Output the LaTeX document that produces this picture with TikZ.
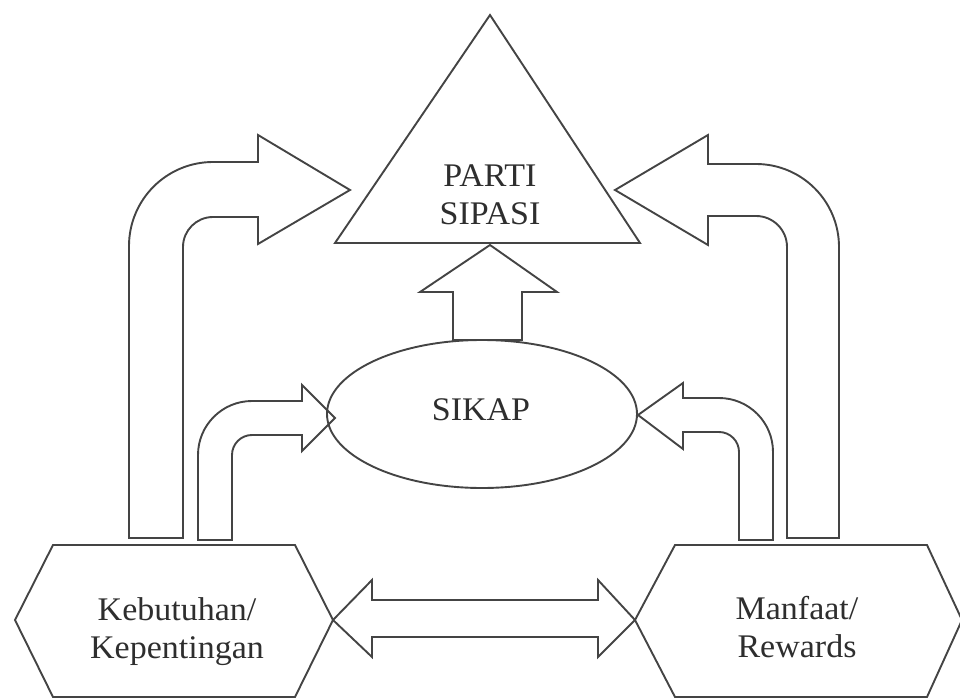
\documentclass[tikz,border=0pt]{standalone}
\usepackage{fontspec}
\setmainfont{Liberation Serif}[FakeStretch=1.03]
\definecolor{inkline}{HTML}{444444}
\definecolor{inktext}{HTML}{2E2E2E}
\tikzset{
  outline/.style={draw=inkline, line width=1.9pt, line join=miter},
  lbl/.style={anchor=base, inner sep=0pt, text=inktext,
    font=\fontsize{33}{38}\selectfont},
}
\begin{document}
\begin{tikzpicture}[x=1pt, y=1pt]
\useasboundingbox (0,-700) rectangle (960,0);

% goal: triangle
\draw[outline] (490,-15) -- (335,-243) -- (640,-243) -- cycle;
\node[lbl] (partisipasi) at (490,-187)
  {\begin{tabular}[t]{@{}c@{}}PARTI\\SIPASI\end{tabular}};

% attitude: ellipse
\draw[outline] (482,-414) ellipse [x radius=155, y radius=74];
\node[lbl] (sikap) at (481,-420) {SIKAP};

% source boxes: wide hexagons
\draw[outline] (15,-620) -- (53,-545) -- (295,-545) -- (333,-620)
  -- (295,-697) -- (53,-697) -- cycle;
\node[lbl] (kebutuhan) at (177,-620)
  {\begin{tabular}[t]{@{}c@{}}Kebutuhan/\\Kepentingan\end{tabular}};

\draw[outline] (635,-620) -- (675,-545) -- (927,-545) -- (962,-620)
  -- (927,-697) -- (675,-697) -- cycle;
\node[lbl] (manfaat) at (797,-619)
  {\begin{tabular}[t]{@{}c@{}}Manfaat/\\Rewards\end{tabular}};

% two-headed block arrow between the hexagons
\draw[outline] (333,-620) -- (372,-580) -- (372,-600) -- (598,-600)
  -- (598,-580) -- (635,-620) -- (598,-657) -- (598,-637)
  -- (372,-637) -- (372,-657) -- cycle;

% block arrow from the ellipse up to the triangle
\draw[outline] (453,-340) -- (453,-292) -- (420,-292) -- (490,-245)
  -- (557,-292) -- (522,-292) -- (522,-340) -- cycle;

% left outer bent arrow to the triangle
\draw[outline] (129,-538) -- (129,-246)
  arc[start angle=180, end angle=90, radius=84] -- (258,-162)
  -- (258,-135) -- (350,-190) -- (258,-244) -- (258,-217) -- (213,-217)
  arc[start angle=90, end angle=180, radius=30] -- (183,-538) -- cycle;

% left inner bent arrow to the ellipse
\draw[outline] (198,-540) -- (198,-455)
  arc[start angle=180, end angle=90, radius=54] -- (302,-401)
  -- (302,-385) -- (335,-418) -- (302,-451) -- (302,-435) -- (252,-435)
  arc[start angle=90, end angle=180, radius=20] -- (232,-540) -- cycle;

% right outer bent arrow to the triangle
\draw[outline] (839,-538) -- (839,-247)
  arc[start angle=0, end angle=90, radius=83] -- (708,-164)
  -- (708,-135) -- (615,-190) -- (708,-245) -- (708,-216) -- (756,-216)
  arc[start angle=90, end angle=0, radius=31] -- (787,-538) -- cycle;

% right inner bent arrow to the ellipse
\draw[outline] (773,-540) -- (773,-452)
  arc[start angle=0, end angle=90, radius=54] -- (683,-398)
  -- (683,-383) -- (638,-415) -- (683,-449) -- (683,-432) -- (719,-432)
  arc[start angle=90, end angle=0, radius=20] -- (739,-540) -- cycle;
\end{tikzpicture}
\end{document}
